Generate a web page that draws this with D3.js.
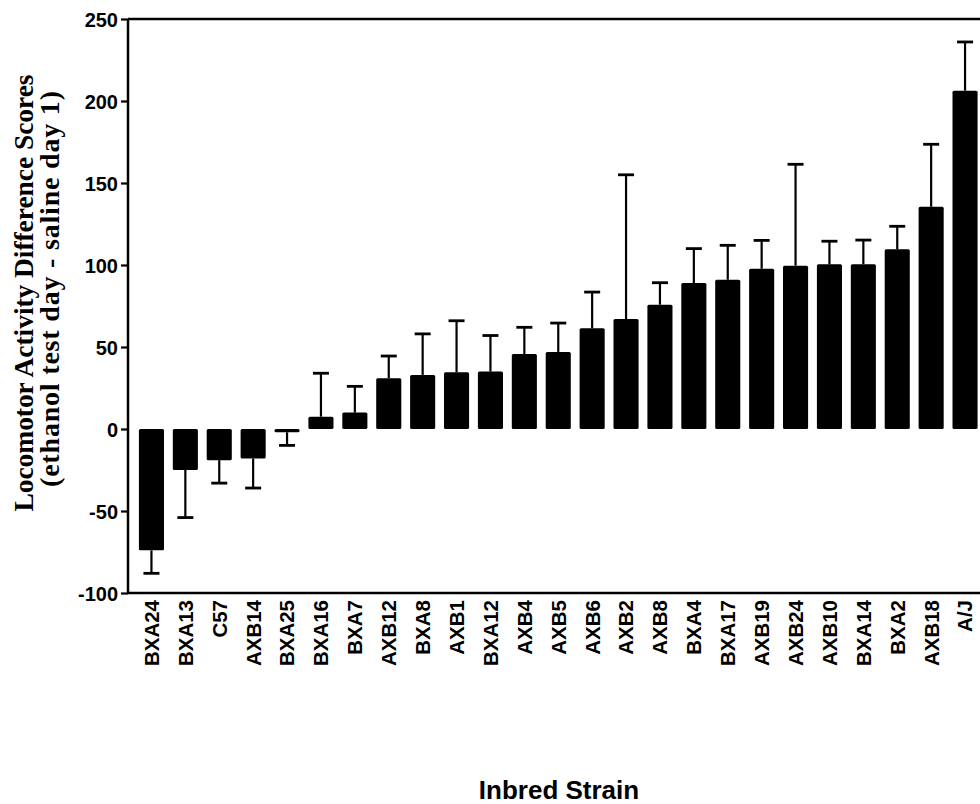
<!DOCTYPE html>
<html>
<head>
<meta charset="utf-8">
<script src="https://cdn.jsdelivr.net/npm/d3@7"></script>
<style>
  body { margin: 0; background: #fff; }
  svg { display: block; }
  .tick text { font-family: "Liberation Sans", Arial, sans-serif; font-weight: bold; fill: #000; }
  .ytitle { font-family: "Liberation Serif", "Times New Roman", serif; font-weight: bold; }
  .xtitle { font-family: "Liberation Sans", Arial, sans-serif; font-weight: bold; }
</style>
</head>
<body>
<div id="chart"></div>
<script>
// strains, sorted as in the figure
var strains = [ "BXA24", "BXA13", "C57", "AXB14", "BXA25", "BXA16", "BXA7", "AXB12", "BXA8", "AXB1",
                "BXA12", "AXB4", "AXB5", "AXB6", "AXB2", "AXB8", "BXA4", "BXA17", "AXB19", "AXB24",
                "AXB10", "BXA14", "BXA2", "AXB18", "A/J" ];
// mean difference scores
var means = [ -74, -25, -19, -18, -2, 7.5, 10, 31, 33, 34.6,
              35, 45.7, 47, 61.4, 67, 75.8, 89, 91, 97.7, 99.6,
              100.4, 100.4, 109.6, 135.5, 206.3 ];
// SEM (error bar drawn away from zero)
var sems = [ 14, 29, 14, 18, 8, 26.5, 16, 13.5, 25, 31.4,
             22, 16.3, 17.6, 22.1, 88, 13.4, 21, 21, 17.3, 61.8,
             14.1, 14.8, 14, 38.1, 29.7 ];
var yTicks = [ -100, -50, 0, 50, 100, 150, 200, 250 ];

var W = 980, H = 804;
var svg = d3.select( "#chart" ).append( "svg" ).attr( "width", W ).attr( "height", H );

var x = d3.scaleBand().domain( strains ).range( [ 134.5, 982 ] ).paddingInner( 0.26 ).paddingOuter( 0.13 );
var y = d3.scaleLinear().domain( [ -100, 250 ] ).range( [ 593, 19 ] );

var data = strains.map( function( s, i ) { return { name: s, mean: means[i], sem: sems[i] }; } );

// top frame line
svg.append( "line" )
   .attr( "x1", 128 ).attr( "x2", W ).attr( "y1", y( 250 ) ).attr( "y2", y( 250 ) )
   .attr( "stroke", "#000" ).attr( "stroke-width", 2.5 );

// bars
svg.append( "g" ).selectAll( "rect" ).data( data ).join( "rect" )
   .attr( "x", function( d ) { return x( d.name ); } )
   .attr( "width", x.bandwidth() )
   .attr( "y", function( d ) { return y( Math.max( 0, d.mean ) ); } )
   .attr( "height", function( d ) { return Math.max( 3, Math.abs( y( d.mean ) - y( 0 ) ) ); } )
   .attr( "rx", 1.5 )
   .attr( "fill", "#000" );

// error bars
var eb = svg.append( "g" ).selectAll( "g" ).data( data ).join( "g" );
eb.append( "line" )
  .attr( "x1", function( d ) { return x( d.name ) + x.bandwidth() / 2; } )
  .attr( "x2", function( d ) { return x( d.name ) + x.bandwidth() / 2; } )
  .attr( "y1", function( d ) { return y( d.mean ); } )
  .attr( "y2", function( d ) { return y( d.mean + Math.sign( d.mean ) * d.sem ); } )
  .attr( "stroke", "#000" ).attr( "stroke-width", 2.2 );
eb.append( "line" )
  .attr( "x1", function( d ) { return x( d.name ) + x.bandwidth() / 2 - 8; } )
  .attr( "x2", function( d ) { return x( d.name ) + x.bandwidth() / 2 + 8; } )
  .attr( "y1", function( d ) { return y( d.mean + Math.sign( d.mean ) * d.sem ); } )
  .attr( "y2", function( d ) { return y( d.mean + Math.sign( d.mean ) * d.sem ); } )
  .attr( "stroke", "#000" ).attr( "stroke-width", 2.8 );

// y axis
var yAxis = svg.append( "g" ).attr( "transform", "translate(128,0)" )
   .call( d3.axisLeft( y ).tickValues( yTicks ).tickSize( 7 ).tickPadding( 3 )
            .tickFormat( function( d ) { return String( d ); } ) );
yAxis.select( ".domain" ).attr( "stroke-width", 2.5 ).attr( "d", "M0," + y( -100 ) + "V" + y( 250 ) );
yAxis.selectAll( ".tick line" ).attr( "stroke-width", 2.2 );
yAxis.selectAll( ".tick text" ).style( "font-size", "20px" ).attr( "dy", "0.36em" );

// x axis (baseline at the bottom of the plot)
var xAxis = svg.append( "g" ).attr( "transform", "translate(0," + y( -100 ) + ")" )
   .call( d3.axisBottom( x ).tickSize( 0 ).tickPadding( 0 ) );
xAxis.select( ".domain" ).attr( "stroke-width", 2.5 ).attr( "d", "M128,0H" + W );
xAxis.selectAll( ".tick text" )
     .style( "font-size", "20.5px" )
     .attr( "text-anchor", "end" )
     .attr( "transform", "rotate(-90)" )
     .attr( "x", -7 ).attr( "y", 0 ).attr( "dy", "0.36em" );

// axis titles
svg.append( "text" ).attr( "class", "ytitle" )
   .attr( "transform", "translate(33,293) rotate(-90)" )
   .attr( "text-anchor", "middle" ).style( "font-size", "27.5px" )
   .attr( "textLength", 437 ).attr( "lengthAdjust", "spacing" )
   .text( "Locomotor Activity Difference Scores" );
svg.append( "text" ).attr( "class", "ytitle" )
   .attr( "transform", "translate(59,289) rotate(-90)" )
   .attr( "text-anchor", "middle" ).style( "font-size", "28px" )
   .attr( "textLength", 396 ).attr( "lengthAdjust", "spacing" )
   .text( "(ethanol test day - saline day 1)" );
svg.append( "text" ).attr( "class", "xtitle" )
   .attr( "x", 559 ).attr( "y", 799 )
   .attr( "text-anchor", "middle" ).style( "font-size", "26px" )
   .text( "Inbred Strain" );
</script>
</body>
</html>
